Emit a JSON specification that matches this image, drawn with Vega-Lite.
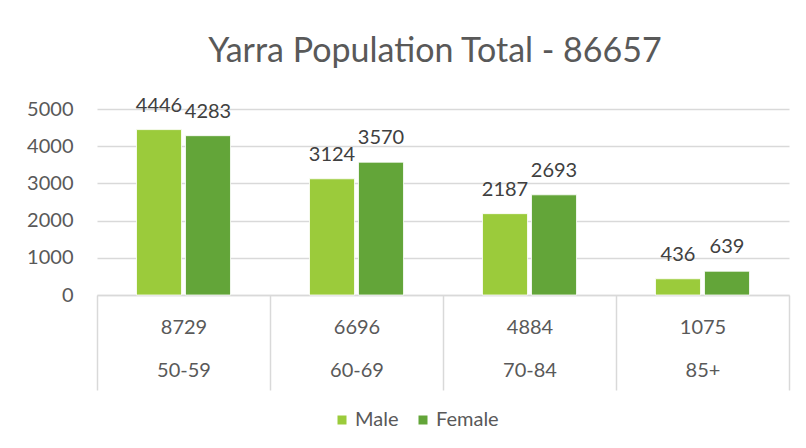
{
  "$schema": "https://vega.github.io/schema/vega-lite/v6.json",
  "width": 692,
  "height": 186,
  "autosize": "none",
  "padding": {"left": 97, "top": 109, "right": 17, "bottom": 153},
  "background": "white",
  "title": {"text": "Yarra Population Total - 86657", "fontSize": 34, "font": "Lato", "fontWeight": "normal", "color": "#595959", "offset": 27, "frame": "group", "anchor": "middle", "dx": -8},
  "data": {"values": [
    {"category": "8729|50-59", "group": "50-59", "sex": "Male", "value": 4446},
    {"category": "8729|50-59", "group": "50-59", "sex": "Female", "value": 4283},
    {"category": "6696|60-69", "group": "60-69", "sex": "Male", "value": 3124},
    {"category": "6696|60-69", "group": "60-69", "sex": "Female", "value": 3570},
    {"category": "4884|70-84", "group": "70-84", "sex": "Male", "value": 2187},
    {"category": "4884|70-84", "group": "70-84", "sex": "Female", "value": 2693},
    {"category": "1075|85+", "group": "85+", "sex": "Male", "value": 436},
    {"category": "1075|85+", "group": "85+", "sex": "Female", "value": 639}
  ]},
  "encoding": {
    "x": {"field": "category", "type": "nominal", "sort": null, "title": null,
      "scale": {"paddingInner": 0, "paddingOuter": 0},
      "axis": {"labelAngle": 0, "labelExpr": "isValid(datum.value) ? split(datum.value, '|') : ''", "labelFont": "Lato", "labelFontSize": 20, "labelColor": "#595959", "labelLineHeight": 43, "labelBaseline": "top",
        "domainColor": "#d9d9d9", "domainWidth": 1.5, "tickBand": "extent", "tickSize": 95, "tickColor": "#d9d9d9", "tickWidth": 1.5, "labelPadding": -73}},
    "xOffset": {"field": "sex", "type": "nominal", "sort": ["Male", "Female"], "scale": {"paddingInner": 0.082, "paddingOuter": 0.806}},
    "y": {"field": "value", "type": "quantitative", "title": null, "scale": {"domain": [0, 5000]},
      "axis": {"values": [0, 1000, 2000, 3000, 4000, 5000], "format": "d", "domain": false, "ticks": false, "labelPadding": 24, "labelFont": "Lato", "labelFontSize": 20, "labelColor": "#595959", "gridColor": "#d9d9d9", "gridWidth": 1.5}}
  },
  "layer": [
    {"mark": {"type": "bar", "stroke": "white", "strokeWidth": 0.8},
      "encoding": {"color": {"field": "sex", "type": "nominal", "sort": ["Male", "Female"],
        "scale": {"domain": ["Male", "Female"], "range": ["#9bcb3b", "#63a539"]},
        "legend": {"orient": "none", "legendX": 235, "legendY": 301, "direction": "horizontal", "title": null, "symbolType": "square", "symbolSize": 81, "symbolStrokeWidth": 0, "labelFont": "Lato", "labelFontSize": 20, "labelColor": "#595959", "labelOffset": 3, "columnPadding": 14}}}},
    {"mark": {"type": "text", "baseline": "alphabetic", "dy": -18, "font": "Lato", "fontSize": 20, "color": "#404040"},
      "encoding": {"text": {"field": "value", "type": "quantitative", "format": "d"}}}
  ],
  "config": {"view": {"stroke": null}}
}
